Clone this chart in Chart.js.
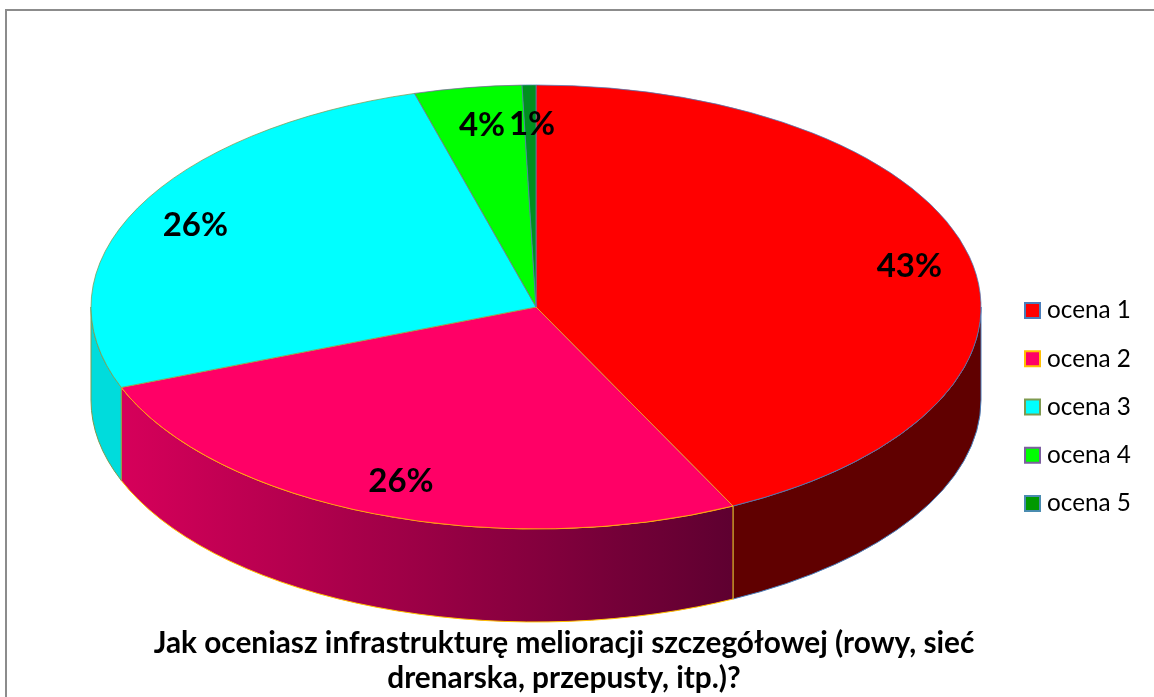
<!DOCTYPE html>
<html>
<head>
<meta charset="utf-8">
<style>
    html, body { margin: 0; padding: 0; background: #fff; overflow: hidden; width: 1154px; height: 697px; }
    #frame { position: absolute; left: 5px; top: 9px; width: 1300px; height: 900px; border: 2px solid #8c8c8c; }
    #pie { position: absolute; left: 0; top: 0; }
</style>
<script src="https://cdn.jsdelivr.net/npm/chart.js@4"></script>
</head>
<body>
<div id="frame"></div>
<canvas id="pie" width="1154" height="697"></canvas>
<script>
const categories = ['ocena 1', 'ocena 2', 'ocena 3', 'ocena 4', 'ocena 5'];
const values = [42.7, 26.4, 26.5, 3.9, 0.5];
const percentLabels = ['43%', '26%', '26%', '4%', '1%'];
const titleLines = ['Jak oceniasz infrastrukturę melioracji szczegółowej (rowy, sieć', 'drenarska, przepusty, itp.)?'];

const topColors = ['#FF0000', '#FF0066', '#00FFFF', '#00FF00', '#008F1F'];
const legendColors = ['#FF0000', '#FF0066', '#00FFFF', '#00FF00', '#009900'];
const edgeColors = ['#4A7EBB', '#FFC000', '#7F9A50', '#7D5FA0', '#4A8CB0'];
const sideStart = ['#600000', '#D6005A', '#00DCDC', '#00C000', '#006000'];
const sideEnd = ['#600000', '#5E0030', '#00DCDC', '#00C000', '#006000'];

const TILT = 222 / 445;
const DEPTH = 93;
const FONT = 'Lato, "Open Sans", sans-serif';
// small hand nudges for the percent labels
const labelNudgeX = [5, 2, -2, 4, 2];
const labelNudgeY = [2, -2, 2, 5, 6];

// squashes the round pie into an ellipse and adds the side wall under it
const tiltPlugin = {
    id: 'tilt',
    afterLayout: (chart) => {
        // title sits right of the pie centre in the original
        chart.titleBlock.left += 28;
        chart.titleBlock.right += 28;
    },
    beforeDatasetsDraw: (chart) => {
        const { ctx } = chart;
        const arcs = chart.getDatasetMeta(0).data;
        const cx = arcs[0].x, cy = arcs[0].y, r = arcs[0].outerRadius;
        const ry = r * TILT;

        arcs.forEach((arc, i) => {
            // only the part facing the viewer, 0..PI in canvas angles
            const from = Math.max(arc.startAngle, 0);
            const to = Math.min(arc.endAngle, Math.PI);
            if (to <= from) return;

            const x0 = cx + Math.cos(to) * r;
            const x1 = cx + Math.cos(from) * r;
            const wall = ctx.createLinearGradient(x0, 0, x1, 0);
            wall.addColorStop(0, sideStart[i]);
            wall.addColorStop(1, sideEnd[i]);

            ctx.beginPath();
            ctx.ellipse(cx, cy, r, ry, 0, from, to);
            ctx.ellipse(cx, cy + DEPTH, r, ry, 0, to, from, true);
            ctx.closePath();
            ctx.fillStyle = wall;
            ctx.fill();
            ctx.strokeStyle = edgeColors[i];
            ctx.lineWidth = 1;
            ctx.stroke();
        });

        ctx.save();
        ctx.translate(0, cy);
        ctx.scale(1, TILT);
        ctx.translate(0, -cy);
    },
    afterDatasetsDraw: (chart) => {
        chart.ctx.restore();
    },
    afterDraw: (chart) => {
        const { ctx } = chart;
        const arcs = chart.getDatasetMeta(0).data;

        ctx.save();
        ctx.fillStyle = '#000';
        ctx.textAlign = 'center';
        ctx.textBaseline = 'middle';
        ctx.font = `700 33px ${FONT}`;
        arcs.forEach((arc, i) => {
            const mid = (arc.startAngle + arc.endAngle) / 2;
            const x = arc.x + Math.cos(mid) * arc.outerRadius * 0.85 + labelNudgeX[i];
            const y = arc.y + Math.sin(mid) * arc.outerRadius * TILT * 0.85 + labelNudgeY[i];
            ctx.fillText(percentLabels[i], x, y);
        });

        // legend, the gap after the marker is tighter than the built in one allows
        ctx.textAlign = 'left';
        ctx.font = `400 24.3px ${FONT}`;
        categories.forEach((name, i) => {
            const y = 310.5 + i * 48.25;
            ctx.fillStyle = legendColors[i];
            ctx.strokeStyle = edgeColors[i];
            ctx.lineWidth = 2;
            ctx.fillRect(1025, y - 7.5, 15, 15);
            ctx.strokeRect(1025, y - 7.5, 15, 15);
            ctx.fillStyle = '#000';
            ctx.fillText(name, 1047, y);
        });
        ctx.restore();
    }
};

new Chart(document.getElementById('pie'), {
    type: 'pie',
    plugins: [tiltPlugin],
    data: {
        labels: categories,
        datasets: [{
            data: values,
            backgroundColor: topColors,
            borderColor: edgeColors,
            borderWidth: 1,
            radius: 445,
            clip: false
        }]
    },
    options: {
        responsive: false,
        animation: false,
        layout: {
            padding: { left: 0, right: 82, top: 0, bottom: 0 }
        },
        plugins: {
            legend: { display: false },
            tooltip: { enabled: false },
            title: {
                display: true,
                position: 'bottom',
                text: titleLines,
                color: '#000',
                font: { family: FONT, size: 29.8, weight: '700', lineHeight: 1.175 },
                padding: { top: 12, bottom: 1 }
            }
        }
    }
});
</script>
</body>
</html>
